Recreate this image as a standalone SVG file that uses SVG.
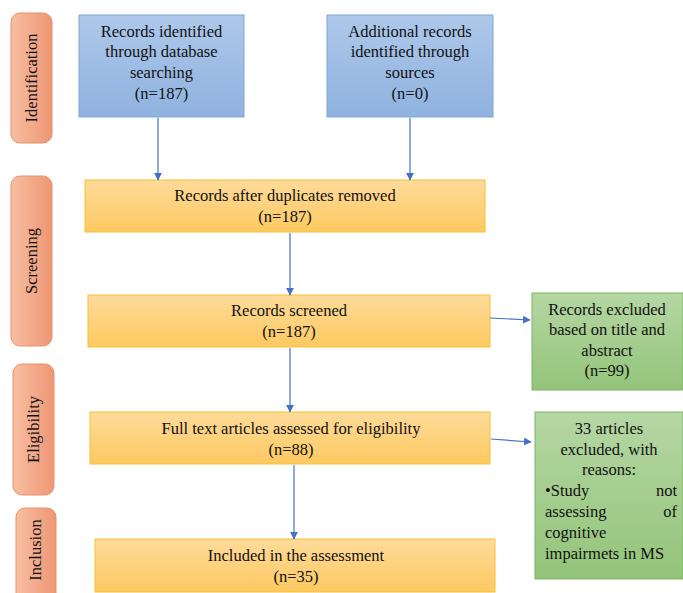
<svg xmlns="http://www.w3.org/2000/svg" width="683" height="593" viewBox="0 0 683 593">
<defs>
<linearGradient id="gBlue" x1="0" y1="0" x2="0" y2="1"><stop offset="0" stop-color="#aec8ea"/><stop offset="1" stop-color="#8fb2df"/></linearGradient>
<linearGradient id="gYel" x1="0" y1="0" x2="0" y2="1"><stop offset="0" stop-color="#fedb9b"/><stop offset="1" stop-color="#fdc960"/></linearGradient>
<linearGradient id="gGrn" x1="0" y1="0" x2="0" y2="1"><stop offset="0" stop-color="#b6d7a4"/><stop offset="1" stop-color="#93c47a"/></linearGradient>
<linearGradient id="gSal" x1="0" y1="0" x2="1" y2="0"><stop offset="0" stop-color="#f7bea2"/><stop offset="1" stop-color="#ee9774"/></linearGradient>
<marker id="arr" viewBox="0 0 10 10" refX="9" refY="5" markerWidth="6.500" markerHeight="6.500" orient="auto" markerUnits="strokeWidth"><path d="M0,0 L10,5 L0,10 z" fill="#4472c4"/></marker>
</defs>
<style>
.t text{font-family:"Liberation Serif","Times New Roman",serif;font-size:16.500px;fill:#111;text-anchor:middle}
.stage{fill:url(#gSal);stroke:#ec9168;stroke-width:1}
.blue{fill:url(#gBlue);stroke:#7ea6da;stroke-width:1}
.yel{fill:url(#gYel);stroke:#f8c032;stroke-width:1}
.grn{fill:url(#gGrn);stroke:#7db462;stroke-width:1}
.conn line{stroke:#4472c4;stroke-width:1.200;marker-end:url(#arr)}
</style>
<rect width="683" height="593" fill="#fff"/>
<g class="t">
<g id="stage-identification"><rect class="stage" x="11" y="13" width="41" height="130" rx="9"/><text transform="translate(37,78) rotate(-90)">Identification</text></g>
<g id="stage-screening"><rect class="stage" x="11" y="176" width="41" height="170" rx="9"/><text transform="translate(37,261) rotate(-90)">Screening</text></g>
<g id="stage-eligibility"><rect class="stage" x="13" y="364" width="41" height="131" rx="9"/><text transform="translate(39,429.500) rotate(-90)">Eligibility</text></g>
<g id="stage-inclusion"><rect class="stage" x="16" y="508" width="40" height="100" rx="9"/><text transform="translate(41,550) rotate(-90)">Inclusion</text></g>
<g id="n-db"><rect class="blue" x="79" y="15" width="165" height="102"/><text x="161.500" y="37">Records identified</text><text x="161.500" y="57">through database</text><text x="161.500" y="78">searching</text><text x="161.500" y="99">(n=187)</text></g>
<g id="n-other"><rect class="blue" x="327" y="15" width="166" height="102"/><text x="410" y="37">Additional records</text><text x="410" y="57">identified through</text><text x="410" y="78">sources</text><text x="410" y="99">(n=0)</text></g>
<g id="n-dup"><rect class="yel" x="85" y="180" width="400" height="52"/><text x="285" y="201">Records after duplicates removed</text><text x="285" y="222">(n=187)</text></g>
<g id="n-screen"><rect class="yel" x="88" y="295" width="402" height="52"/><text x="289" y="316">Records screened</text><text x="289" y="337">(n=187)</text></g>
<g id="n-full"><rect class="yel" x="90" y="412" width="400" height="52"/><text x="291" y="434">Full text articles assessed for eligibility</text><text x="291" y="455">(n=88)</text></g>
<g id="n-incl"><rect class="yel" x="95" y="539" width="400" height="53"/><text x="296" y="561">Included in the assessment</text><text x="296" y="582">(n=35)</text></g>
<g id="n-excl1"><rect class="grn" x="532" y="293" width="151" height="97"/><text x="607" y="315">Records excluded</text><text x="607" y="335">based on title and</text><text x="607" y="356">abstract</text><text x="607" y="376">(n=99)</text></g>
<g id="n-excl2"><rect class="grn" x="535" y="412" width="148" height="167"/><text x="609" y="434">33 articles</text><text x="609" y="455">excluded, with</text><text x="609" y="475">reasons:</text><text x="545" y="496" style="text-anchor:start">•Study</text><text x="677" y="496" style="text-anchor:end">not</text><text x="545" y="517" style="text-anchor:start">assessing</text><text x="677" y="517" style="text-anchor:end">of</text><text x="545" y="538" style="text-anchor:start">cognitive</text><text x="545" y="559" style="text-anchor:start">impairmets in MS</text></g>
</g>
<g id="connectors" class="conn">
<line x1="158" y1="118" x2="158" y2="180"/>
<line x1="410" y1="118" x2="410" y2="180"/>
<line x1="290" y1="233" x2="290" y2="295"/>
<line x1="290" y1="348" x2="290" y2="412"/>
<line x1="294" y1="465" x2="294" y2="539"/>
<line x1="490" y1="318" x2="530" y2="320"/>
<line x1="491" y1="439" x2="531" y2="442"/>
</g>
</svg>
